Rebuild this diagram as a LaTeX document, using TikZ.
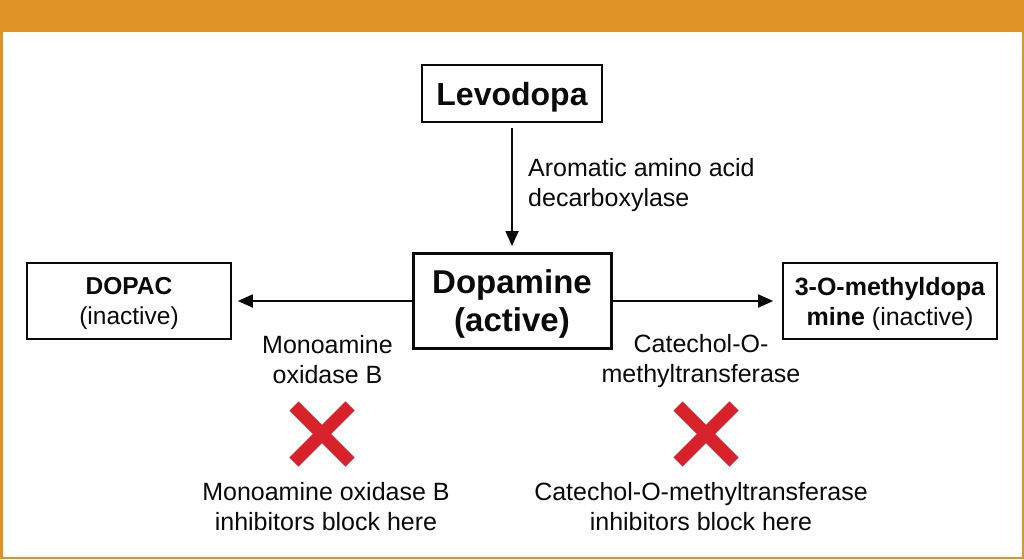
\documentclass[tikz,border=0pt]{standalone}
\usepackage{fontspec}
\setmainfont{Liberation Sans}
\usetikzlibrary{arrows.meta}
\definecolor{frameorange}{HTML}{E09426}
\definecolor{xred}{HTML}{D7212B}
\definecolor{ink}{HTML}{0A0A0A}
\begin{document}
\begin{tikzpicture}[x=1pt,y=-1pt,
  box/.style={draw=ink, line width=1.6pt, align=center, inner sep=0pt, text=ink},
  lbl/.style={align=center, inner sep=0pt, text=ink, font=\fontsize{25}{30}\selectfont},
  conn/.style={draw=ink, line width=1.8pt, -{Triangle[length=15pt,width=13pt]}},
  xmark/.style={draw=xred, line width=13pt}
]
\useasboundingbox (0,0) rectangle (1024,559);
\fill[white] (0,0) rectangle (1024,559);
\fill[frameorange] (0,0) rectangle (1024,32);
\draw[frameorange, line width=2.5pt] (1.25,32) -- (1.25,557.75) -- (1022.75,557.75) -- (1022.75,32);

\node[box, minimum width=180, minimum height=57, text depth=0pt, font=\bfseries\fontsize{32}{38}\selectfont] (levo) at (512,93.5) {Levodopa};
\node[box, line width=3pt, minimum width=198, minimum height=95, text depth=1pt, font=\bfseries\fontsize{33}{38}\selectfont] (dopa) at (512,301) {Dopamine\\(active)};
\node[box, minimum width=204, minimum height=76, text depth=0pt, font=\fontsize{24.5}{30}\selectfont] (dopac) at (129,301) {\textbf{DOPAC}\\(inactive)};
\node[box, minimum width=214, minimum height=76, text depth=0pt, font=\fontsize{25}{30}\selectfont] (omd) at (890,301) {\textbf{3-O-methyldopa}\\\textbf{mine} (inactive)};

\draw[conn, shorten <=5pt, shorten >=6pt] (levo) -- (dopa);
\draw[conn, shorten >=6pt] (dopa.west) -- (dopac.east);
\draw[conn, shorten >=9pt] (dopa.east) -- (omd.west);

\node[lbl, align=left, anchor=west] (aadc) at (528,184.7) {Aromatic amino acid\\decarboxylase};
\node[lbl] (mao) at (327.5,360) {Monoamine\\oxidase B};
\node[lbl] (comt) at (701,361.5) {Catechol-O-\\methyltransferase};

\coordinate (xa) at (322,434);
\coordinate (xb) at (706,434);
\draw[xmark, shift={(xa)}] (-28,-28) -- (28,28) (-28,28) -- (28,-28);
\draw[xmark, shift={(xb)}] (-28,-28) -- (28,28) (-28,28) -- (28,-28);

\node[lbl] (maoi) at (326,507) {Monoamine oxidase B\\inhibitors block here};
\node[lbl] (comti) at (701,507) {Catechol-O-methyltransferase\\inhibitors block here};
\end{tikzpicture}
\end{document}
